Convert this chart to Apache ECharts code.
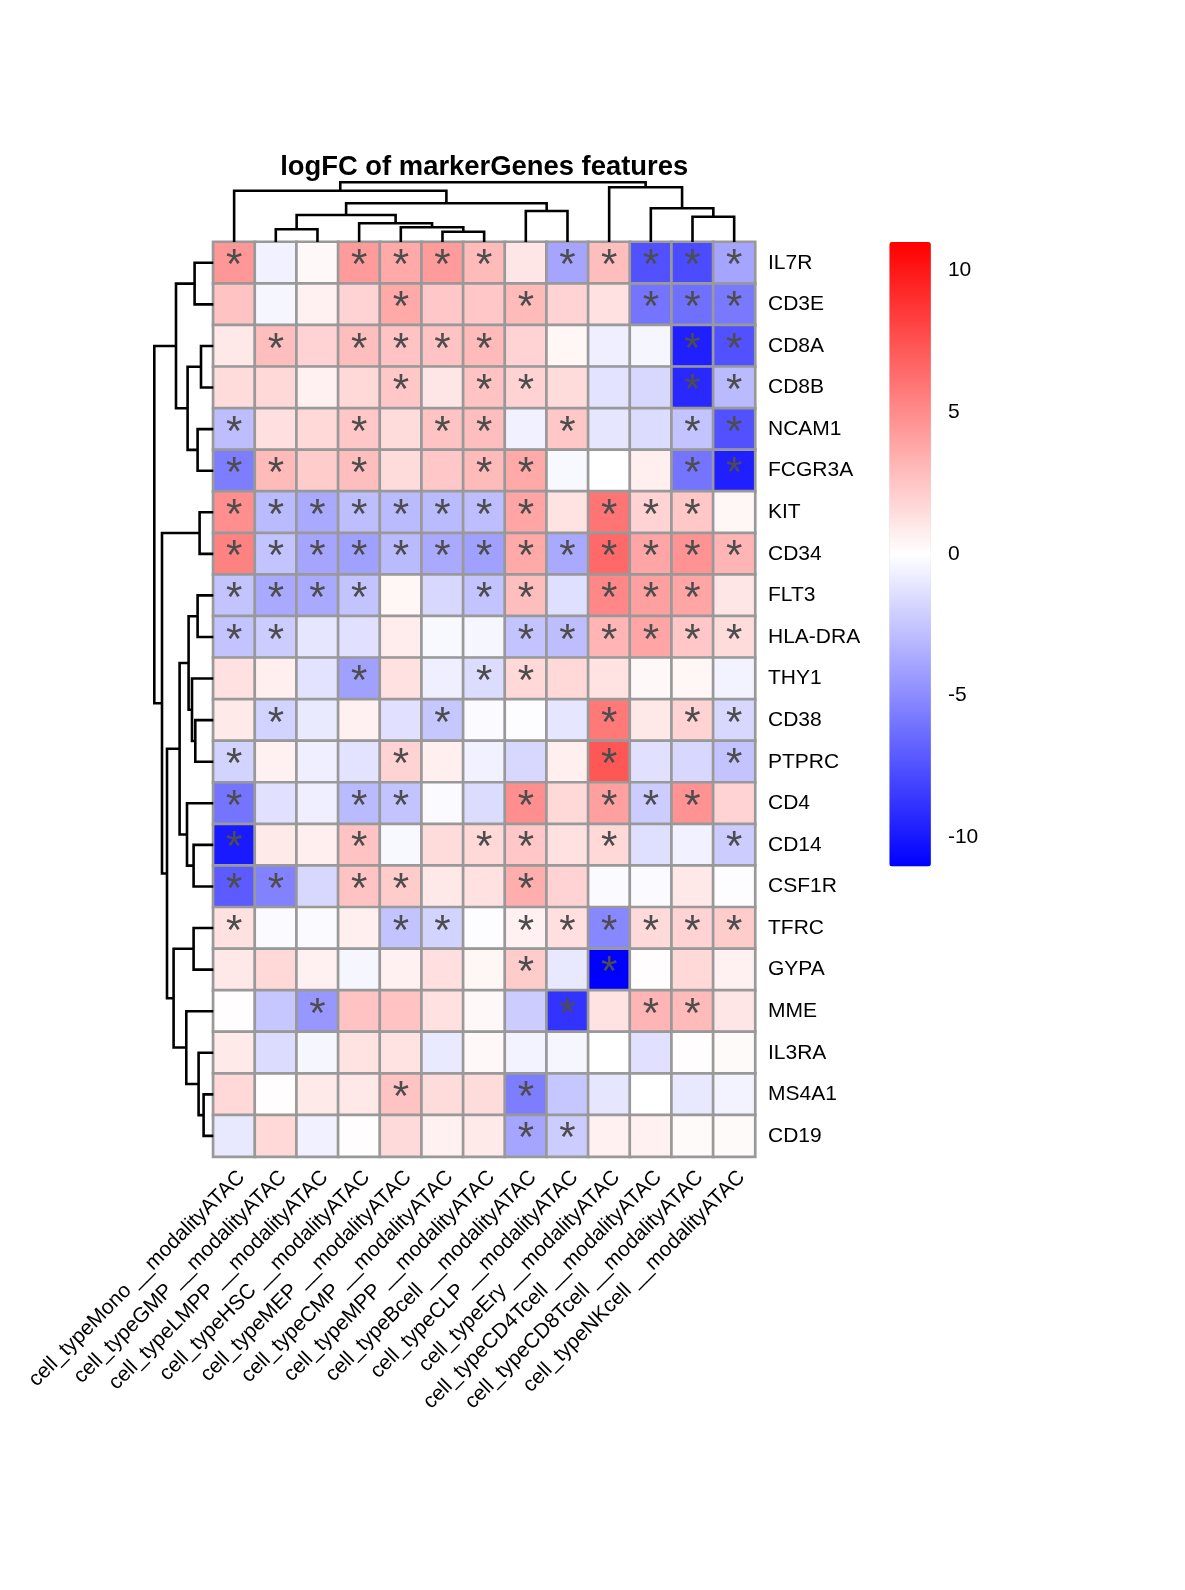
<!DOCTYPE html>
<html><head><meta charset="utf-8">
<script src="https://cdn.jsdelivr.net/npm/echarts@6/dist/echarts.min.js"></script>
<style>html,body{margin:0;padding:0;background:#fff}#c{width:1185px;height:1590px}</style>
</head><body><div id="c"></div>
<script>
// ---------- data ----------
const columns = ['cell_typeMono __modalityATAC','cell_typeGMP __modalityATAC','cell_typeLMPP __modalityATAC',
  'cell_typeHSC __modalityATAC','cell_typeMEP __modalityATAC','cell_typeCMP __modalityATAC','cell_typeMPP __modalityATAC',
  'cell_typeBcell __modalityATAC','cell_typeCLP __modalityATAC','cell_typeEry __modalityATAC','cell_typeCD4Tcell __modalityATAC',
  'cell_typeCD8Tcell __modalityATAC','cell_typeNKcell __modalityATAC'];
const genes = ['IL7R','CD3E','CD8A','CD8B','NCAM1','FCGR3A','KIT','CD34','FLT3','HLA-DRA','THY1','CD38','PTPRC','CD4','CD14','CSF1R','TFRC','GYPA','MME','IL3RA','MS4A1','CD19'];

const IL7R   = [4.5, -0.6, 0.3, 4.3, 3.7, 4.3, 3.0, 1.1, -3.9, 2.8, -7.5, -7.8, -3.9];
const CD3E   = [2.6, -0.4, 0.6, 1.9, 3.7, 2.4, 2.4, 3.0, 1.9, 1.3, -6.0, -6.2, -5.8];
const CD8A   = [1.0, 2.8, 1.9, 2.8, 2.6, 2.6, 3.0, 1.9, 0.4, -0.7, -0.4, -9.7, -7.5];
const CD8B   = [1.5, 1.7, 0.6, 1.7, 2.4, 1.1, 2.6, 1.9, 1.5, -1.2, -1.7, -9.3, -3.0];
const NCAM1  = [-2.8, 1.4, 1.7, 2.4, 1.5, 2.6, 2.8, -0.6, 2.4, -1.1, -1.5, -2.6, -7.5];
const FCGR3A = [-5.6, 3.0, 2.2, 2.8, 1.5, 2.4, 3.0, 3.7, -0.3, 0.0, 0.7, -6.0, -9.7];
const KIT    = [4.9, -3.0, -3.7, -2.8, -3.0, -3.0, -2.8, 3.9, 1.2, 6.0, 1.9, 2.4, 0.4];
const CD34   = [5.4, -2.6, -3.9, -4.1, -3.0, -3.7, -4.1, 3.7, -3.7, 6.5, 3.9, 4.7, 3.2];
const FLT3   = [-2.6, -3.7, -3.7, -2.6, 0.4, -1.7, -2.6, 2.8, -1.4, 5.2, 4.1, 3.9, 1.1];
const HLA_DRA= [-2.6, -2.2, -1.1, -1.3, 0.8, -0.3, -0.4, -2.6, -2.8, 3.2, 3.9, 2.4, 1.5];
const THY1   = [1.3, 0.7, -1.2, -4.1, 1.3, -0.7, -1.5, 1.7, 1.7, 1.2, 0.3, 0.4, -0.5];
const CD38   = [0.9, -1.9, -0.9, 0.6, -1.3, -2.4, -0.2, -0.1, -1.1, 5.8, 1.0, 1.9, -1.7];
const PTPRC  = [-1.9, 0.6, -0.7, -1.2, 1.9, 0.7, -0.6, -1.7, 0.7, 7.3, -1.3, -1.7, -2.6];
const CD4    = [-6.0, -1.3, -0.7, -3.0, -2.6, -0.2, -1.5, 4.9, 1.7, 4.1, -2.2, 4.7, 1.9];
const CD14   = [-9.9, 0.9, 0.7, 2.6, -0.3, 1.5, 1.7, 2.4, 1.3, 1.7, -1.4, -0.6, -2.2];
const CSF1R  = [-7.1, -5.4, -1.7, 2.6, 2.2, 1.0, 1.3, 3.5, 1.9, -0.2, -0.2, 1.0, -0.1];
const TFRC   = [1.3, -0.2, -0.2, 0.7, -2.6, -1.9, -0.1, 0.6, 1.4, -5.2, 1.6, 1.9, 2.2];
const GYPA   = [1.0, 1.7, 0.6, -0.4, 0.6, 1.4, 0.4, 2.2, -1.0, -11.02, 0.1, 1.7, 0.6];
const MME    = [0.1, -2.4, -4.5, 2.6, 2.6, 1.3, 0.3, -2.2, -8.8, 1.2, 3.2, 3.0, 1.1];
const IL3RA  = [0.9, -1.5, -0.4, 1.2, 1.2, -0.9, 0.3, -0.5, -0.4, 0.0, -1.3, 0.1, 0.2];
const MS4A1  = [1.7, 0.1, 0.9, 1.0, 2.6, 1.5, 1.5, -5.6, -2.4, -1.1, 0.0, -1.0, -0.5];
const CD19   = [-1.0, 1.7, -0.6, 0.1, 1.6, 0.6, 0.9, -3.9, -2.2, 0.6, 0.6, 0.2, 0.2];

// significance marks (1 = "*")
const IL7R_sig   = [1,0,0,1,1,1,1,0,1,1,1,1,1];
const CD3E_sig   = [0,0,0,0,1,0,0,1,0,0,1,1,1];
const CD8A_sig   = [0,1,0,1,1,1,1,0,0,0,0,1,1];
const CD8B_sig   = [0,0,0,0,1,0,1,1,0,0,0,1,1];
const NCAM1_sig  = [1,0,0,1,0,1,1,0,1,0,0,1,1];
const FCGR3A_sig = [1,1,0,1,0,0,1,1,0,0,0,1,1];
const KIT_sig    = [1,1,1,1,1,1,1,1,0,1,1,1,0];
const CD34_sig   = [1,1,1,1,1,1,1,1,1,1,1,1,1];
const FLT3_sig   = [1,1,1,1,0,0,1,1,0,1,1,1,0];
const HLA_DRA_sig= [1,1,0,0,0,0,0,1,1,1,1,1,1];
const THY1_sig   = [0,0,0,1,0,0,1,1,0,0,0,0,0];
const CD38_sig   = [0,1,0,0,0,1,0,0,0,1,0,1,1];
const PTPRC_sig  = [1,0,0,0,1,0,0,0,0,1,0,0,1];
const CD4_sig    = [1,0,0,1,1,0,0,1,0,1,1,1,0];
const CD14_sig   = [1,0,0,1,0,0,1,1,0,1,0,0,1];
const CSF1R_sig  = [1,1,0,1,1,0,0,1,0,0,0,0,0];
const TFRC_sig   = [1,0,0,0,1,1,0,1,1,1,1,1,1];
const GYPA_sig   = [0,0,0,0,0,0,0,1,0,1,0,0,0];
const MME_sig    = [0,0,1,0,0,0,0,0,1,0,1,1,0];
const IL3RA_sig  = [0,0,0,0,0,0,0,0,0,0,0,0,0];
const MS4A1_sig  = [0,0,0,0,1,0,0,1,0,0,0,0,0];
const CD19_sig   = [0,0,0,0,0,0,0,1,1,0,0,0,0];

// column dendrogram merges: [childA, childB, height]; negative = leaf -(index+1), positive = merge number
const colMerges = [
  [-6, -7, 10.3], [-5, 1, 14.7], [-2, -3, 12.7], [-4, 2, 18.7], [3, 4, 27],
  [-8, -9, 31], [5, 6, 38.7], [-1, 7, 51.3], [-12, -13, 25.3], [-11, 9, 33.7],
  [-10, 10, 54.7], [8, 11, 59.7]
];
// row dendrogram merges
const rowMerges = [
  [-1, -2, 18.7], [-3, -4, 12.3], [-5, -6, 15.7], [2, 3, 25.7], [1, 4, 37.3],
  [-7, -8, 13.7], [-9, -10, 15.7], [-12, -13, 18], [-11, 8, 21.3], [7, 9, 24.7],
  [-15, -16, 19.7], [-14, 11, 26.3], [10, 12, 33.7], [-17, -18, 19.7], [-21, -22, 9.7],
  [-20, 15, 14.7], [-19, 16, 27], [14, 17, 39.7], [13, 18, 46.3], [6, 19, 51.3], [5, 20, 59]
];
const legendTicks = [-10, -5, 0, 5, 10];
const colorMin = -11.02, colorMax = 11.02;

// ---------- build ----------
const rowVals = [IL7R, CD3E, CD8A, CD8B, NCAM1, FCGR3A, KIT, CD34, FLT3, HLA_DRA, THY1, CD38, PTPRC, CD4, CD14, CSF1R, TFRC, GYPA, MME, IL3RA, MS4A1, CD19];
const rowSig = [IL7R_sig, CD3E_sig, CD8A_sig, CD8B_sig, NCAM1_sig, FCGR3A_sig, KIT_sig, CD34_sig, FLT3_sig, HLA_DRA_sig, THY1_sig, CD38_sig, PTPRC_sig, CD4_sig, CD14_sig, CSF1R_sig, TFRC_sig, GYPA_sig, MME_sig, IL3RA_sig, MS4A1_sig, CD19_sig];
const heatData = [];
rowVals.forEach((r, i) => r.forEach((v, j) => heatData.push([j, i, v, rowSig[i][j]])));

function dendroSegments(merges) {
  const pos = [], h = [];
  const get = c => c < 0 ? [-c - 1 + 0.5, 0] : [pos[c - 1], h[c - 1]];
  const segs = [];
  merges.forEach(([a, b, ht]) => {
    const A = get(a), B = get(b);
    segs.push([A[0], A[1], B[0], B[1], ht]);
    pos.push((A[0] + B[0]) / 2); h.push(ht);
  });
  return segs;
}
const colSegs = dendroSegments(colMerges);
const rowSegs = dendroSegments(rowMerges);

const FONT = '"Liberation Sans", Arial, Helvetica, sans-serif';
const LW = 2.6;

const G = {left: 213.3, top: 242, width: 541.7, height: 914.7};

const chart = echarts.init(document.getElementById('c'), null, {renderer: 'canvas'});
chart.setOption({
  backgroundColor: '#ffffff',
  animation: false,
  textStyle: {fontFamily: FONT},
  graphic: [{
    type: 'text', x: G.left + G.width / 2, y: 167,
    style: {text: 'logFC of markerGenes features', fontSize: 27.4, fontWeight: 'bold', fontFamily: FONT,
      fill: '#000', align: 'center', verticalAlign: 'middle'}
  }],
  grid: [
    {left: G.left, top: G.top, width: G.width, height: G.height},               // heatmap
    {left: G.left, top: 180, width: G.width, height: 62},                       // column dendrogram
    {left: 150, top: G.top, width: G.left - 150, height: G.height},             // row dendrogram
    {left: 889.3, top: 270.7, width: 41.6, height: 566.6}                       // legend ticks
  ],
  xAxis: [
    {gridIndex: 0, type: 'category', data: columns, position: 'bottom',
      axisLine: {show: false}, axisTick: {show: false}, splitLine: {show: false},
      axisLabel: {interval: 0, rotate: 45, align: 'right', verticalAlign: 'top', margin: 10,
        fontSize: 21, color: '#000', fontFamily: FONT}},
    {gridIndex: 1, type: 'value', min: 0, max: 13, show: false},
    {gridIndex: 2, type: 'value', min: 0, max: G.left - 150, inverse: true, show: false},
    {gridIndex: 3, type: 'value', min: 0, max: 1, show: false}
  ],
  yAxis: [
    {gridIndex: 0, type: 'category', data: genes, inverse: true, position: 'right',
      axisLine: {show: false}, axisTick: {show: false}, splitLine: {show: false},
      axisLabel: {interval: 0, margin: 13, align: 'left', fontSize: 21, color: '#000', fontFamily: FONT,
        padding: [7, 0, 0, 0]}},
    {gridIndex: 1, type: 'value', min: 0, max: 62, show: false},
    {gridIndex: 2, type: 'value', min: 0, max: 22, inverse: true, show: false},
    {gridIndex: 3, type: 'value', min: legendTicks[0], max: legendTicks[legendTicks.length - 1], interval: 5,
      position: 'right', axisLine: {show: false}, axisTick: {show: false}, splitLine: {show: false},
      axisLabel: {margin: 17, align: 'left', fontSize: 21, color: '#000', fontFamily: FONT,
        padding: [8, 0, 0, 0]}}
  ],
  visualMap: [{
    type: 'continuous', seriesIndex: 0, min: colorMin, max: colorMax, dimension: 2,
    calculable: false, hoverLink: false, realtime: false,
    inRange: {color: ['#0000ff', '#ffffff', '#ff0000']},
    left: 889.3, top: 242, itemWidth: 41.6, itemHeight: 624.5, padding: 0, text: null, showLabel: false
  }],
  series: [
    {
      type: 'heatmap', xAxisIndex: 0, yAxisIndex: 0, data: heatData,
      itemStyle: {borderColor: '#999999', borderWidth: 2.7},
      emphasis: {disabled: true},
      label: {show: true, formatter: p => p.data[3] ? '*' : '', fontSize: 42, color: '#4d4d4d',
        fontFamily: FONT, offset: [0, 4]}
    },
    {
      type: 'custom', xAxisIndex: 1, yAxisIndex: 1, data: colSegs, silent: true,
      renderItem: (params, api) => {
        const x1 = api.value(0), h1 = api.value(1), x2 = api.value(2), h2 = api.value(3), h = api.value(4);
        return {type: 'polyline', shape: {points: [api.coord([x1, h1]), api.coord([x1, h]), api.coord([x2, h]), api.coord([x2, h2])]},
          style: {stroke: '#000', lineWidth: LW, fill: null, lineJoin: 'miter'}};
      }
    },
    {
      type: 'custom', xAxisIndex: 2, yAxisIndex: 2, data: rowSegs, silent: true,
      encode: {x: 1, y: 0},
      renderItem: (params, api) => {
        const y1 = api.value(0), h1 = api.value(1), y2 = api.value(2), h2 = api.value(3), h = api.value(4);
        return {type: 'polyline', shape: {points: [api.coord([h1, y1]), api.coord([h, y1]), api.coord([h, y2]), api.coord([h2, y2])]},
          style: {stroke: '#000', lineWidth: LW, fill: null, lineJoin: 'miter'}};
      }
    }
  ]
});
</script></body></html>
